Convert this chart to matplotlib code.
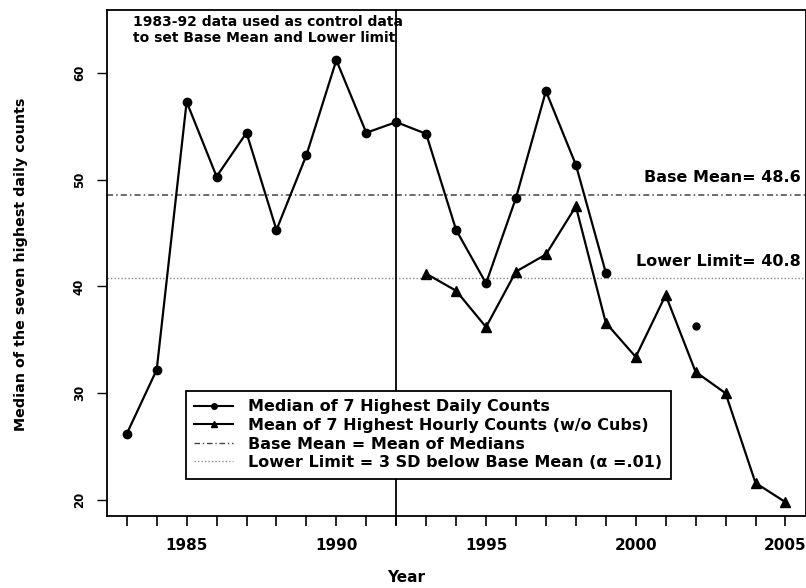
import matplotlib.pyplot as plt
from matplotlib.lines import Line2D
import numpy as np

plt.rcParams['font.family'] = ['DejaVu Sans']
plt.rcParams['font.weight'] = 'bold'

# --- data
years_median = [1983, 1984, 1985, 1986, 1987, 1988, 1989, 1990, 1991,
                1992, 1993, 1994, 1995, 1996, 1997, 1998, 1999]
median_counts = [26.2, 32.2, 57.3, 50.3, 54.4, 45.3, 52.3, 61.2, 54.4,
                 55.4, 54.3, 45.3, 40.3, 48.3, 58.3, 51.4, 41.3]
year_median_2002 = [2002]
median_2002 = [36.3]

years_hourly = [1993, 1994, 1995, 1996, 1997, 1998, 1999, 2000, 2001,
                2002, 2003, 2004, 2005]
hourly_means = [41.2, 39.6, 36.2, 41.4, 43.0, 47.5, 36.6, 33.4, 39.2,
                32.0, 30.0, 21.6, 19.8]

base_mean = 48.6
lower_limit = 40.8
control_end = 1992

W, H = 806, 588
fig = plt.figure(figsize=(W / 100, H / 100), dpi=100)
ax = fig.add_axes([106.7 / W, 1 - 516 / H, (805.5 - 106.7) / W, (516 - 10) / H])

# reference lines
ax.axhline(base_mean, color='#444444', lw=1.1, ls=(0, (4, 2, 1, 2)))
ax.axhline(lower_limit, color='#888888', lw=1.0, ls=(0, (1, 1.5)))

# control period divider
ax.axvline(control_end, ymin=-0.015, ymax=1, color='black', lw=1.3, clip_on=False)

ax.plot(years_median, median_counts, color='black', lw=1.6, marker='o', ms=6)
ax.plot(year_median_2002, median_2002, color='black', lw=0, marker='o', ms=5)
ax.plot(years_hourly, hourly_means, color='black', lw=1.6, marker='^', ms=7)

ax.set_xlim(1982.33, 2005.67)
ax.set_ylim(18.5, 65.9)

ax.set_xticks(np.arange(1983, 2006))
ax.set_xticklabels([str(y) if y % 5 == 0 else '' for y in range(1983, 2006)])
ax.set_yticks([20, 30, 40, 50, 60])
ax.set_yticklabels(['20', '30', '40', '50', '60'], rotation=90, va='center')
ax.tick_params(axis='x', length=7, width=1.2, pad=9, labelsize=11)
ax.tick_params(axis='y', length=7, width=1.0, pad=8, labelsize=8.5)
for s in ax.spines.values():
    s.set_linewidth(1.3)

fig.text(406 / W, 1 - 577 / H, 'Year', ha='center', va='center', fontsize=11)
fig.text(21 / W, 1 - 264 / H, 'Median of the seven highest daily counts',
         rotation=90, ha='center', va='center', fontsize=10.3)

fig.text(133 / W, 1 - 30 / H, '1983-92 data used as control data\nto set Base Mean and Lower limit',
         ha='left', va='center', fontsize=10, linespacing=1.1)

fig.text(801 / W, 1 - 178 / H, 'Base Mean= 48.6', ha='right', va='center', fontsize=11.5)
fig.text(801 / W, 1 - 262 / H, 'Lower Limit= 40.8', ha='right', va='center', fontsize=11.5)

handles = [
    Line2D([], [], color='black', lw=1.5, marker='o', ms=4),
    Line2D([], [], color='black', lw=1.5, marker='^', ms=5),
    Line2D([], [], color='#444444', lw=1.0, ls=(0, (4, 2, 1, 2))),
    Line2D([], [], color='#888888', lw=1.0, ls=(0, (1, 1.5))),
]
labels = [
    'Median of 7 Highest Daily Counts',
    'Mean of 7 Highest Hourly Counts (w/o Cubs)',
    'Base Mean = Mean of Medians',
    'Lower Limit = 3 SD below Base Mean (\u03b1 =.01)',
]
leg = ax.legend(handles, labels, loc='upper left',
                bbox_to_anchor=(185.7 / W, 1 - 390.7 / H), bbox_transform=fig.transFigure,
                borderaxespad=0, fancybox=False, edgecolor='black', framealpha=1,
                fontsize=11.5, handlelength=2.4, handletextpad=0.95, labelspacing=0.22,
                borderpad=0.55)
leg.get_frame().set_linewidth(1.3)

fig.savefig('out.png', dpi=100)
